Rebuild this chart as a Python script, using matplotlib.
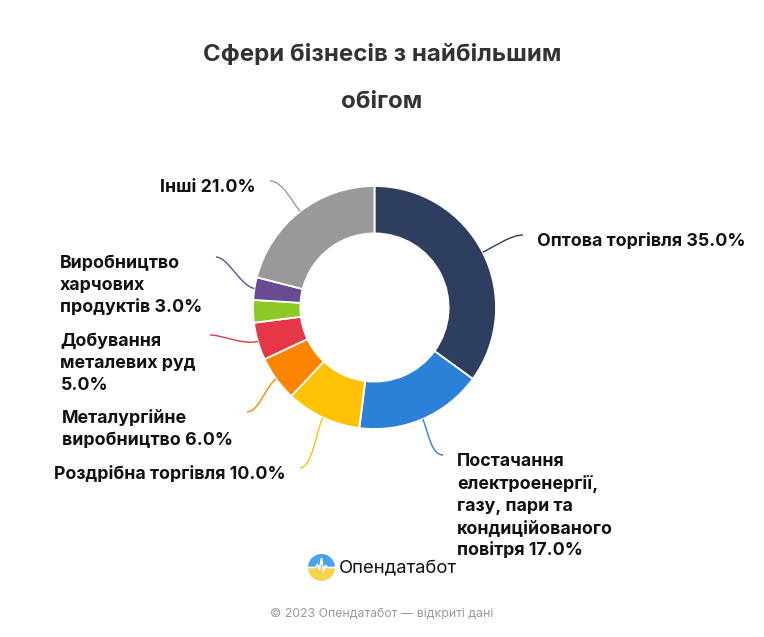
import matplotlib
matplotlib.use("Agg")
import matplotlib.pyplot as plt
import numpy as np
from matplotlib.path import Path
from matplotlib.patches import PathPatch, Wedge

# ---- data ----
categories = ["Оптова торгівля",
              "Постачання\nелектроенергії,\nгазу, пари та\nкондиційованого\nповітря",
              "Роздрібна торгівля",
              "Металургійне\nвиробництво",
              "Добування\nметалевих руд\n",
              "",
              "Виробництво\nхарчових\nпродуктів",
              "Інші"]
values = [35.0, 17.0, 10.0, 6.0, 5.0, 3.0, 3.0, 21.0]
colors = ["#2d3e5f", "#2b80d8", "#fec104", "#fc8500", "#e63746",
          "#8bc926", "#6a4c93", "#999999"]
title = "Сфери бізнесів з найбільшим\nобігом"
footer = "© 2023 Опендатабот — відкриті дані"
brand = "Опендатабот"

# ---- layout (pixels from top-left) ----
W, H = 764, 637
cx, cy, R = 374.5, 307.5, 121.5
label_ends = [(523, 235), (443, 455), (300, 468), (247, 412), (210, 335),
              None, (216, 257), (270, 181)]

plt.rcParams['font.family'] = ['Inter', 'DejaVu Sans']
fig = plt.figure(figsize=(W / 100, H / 100), dpi=100)
ax = fig.add_axes([0, 0, 1, 1])

def Y(y):
    return H - y

wedges, _ = ax.pie(values, colors=colors, startangle=90, counterclock=False,
                   center=(cx, Y(cy)), radius=R,
                   wedgeprops=dict(width=R * 0.39, edgecolor='white', linewidth=1.3))

for w, lab, v, end, col in zip(wedges, categories, values, label_ends, colors):
    if end is None or lab == "":
        continue
    mid = np.deg2rad((w.theta1 + w.theta2) / 2)
    ux, uy = np.cos(mid), np.sin(mid)
    p0 = (cx + R * ux, Y(cy) + R * uy)
    p3 = (end[0], Y(end[1]))
    side = 1 if p3[0] > cx else -1
    p1 = (p0[0] + 14 * ux, p0[1] + 14 * uy)
    p2 = (p3[0] - side * 12, p3[1])
    path = Path([p0, p1, p2, p3], [Path.MOVETO, Path.CURVE4, Path.CURVE4, Path.CURVE4])
    ax.add_patch(PathPatch(path, fill=False, edgecolor=col, linewidth=1.0))
    sep = "" if lab.endswith("\n") else " "
    txt = f"{lab}{sep}{v:.1f}%"
    tx = p3[0] + side * 14
    ax.text(tx, p3[1] + 2, txt, ha='left' if side > 0 else 'right',
            va='top', multialignment='left', fontsize=12.8, fontweight='bold',
            color='#111111', linespacing=1.37)

# title
ax.text(382, Y(44), title, ha='center', va='top', fontsize=17.3,
        fontweight='bold', color='#333333', linespacing=2.45)

# logo
lx, ly, lr = 321.5, Y(567.5), 13.5
ax.add_patch(Wedge((lx, ly), lr, 0, 180, facecolor='#4aa3ea', edgecolor='none'))
ax.add_patch(Wedge((lx, ly), lr, 180, 360, facecolor='#f6d34c', edgecolor='none'))
zx = [lx - lr, lx - 6, lx - 4, lx - 2, lx, lx + 2, lx + 4, lx + 6, lx + lr]
zy = [ly, ly, ly + 3, ly - 2, ly + 9, ly - 4, ly + 2, ly, ly]
ax.plot(zx, zy, color='white', linewidth=1.2, solid_joinstyle='round')
ax.text(339, Y(568), brand, ha='left', va='center', fontsize=13.3,
        color='#111111')

ax.text(382, Y(614), footer, ha='center', va='center', fontsize=8.85,
        color='#9a9a9a')

ax.set_xlim(0, W)
ax.set_ylim(0, H)
ax.set_aspect('equal')
ax.axis('off')
fig.savefig("out.png", dpi=100, facecolor='white')
